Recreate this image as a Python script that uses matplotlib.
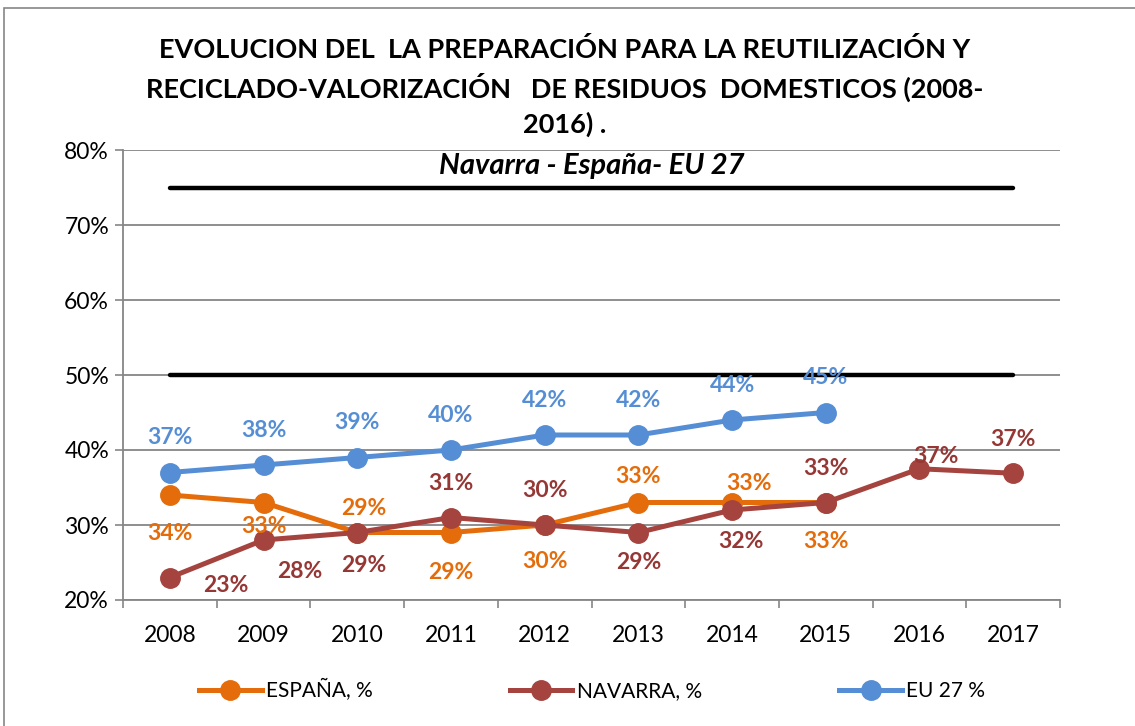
import numpy as np
import matplotlib.pyplot as plt
from matplotlib.patches import Rectangle

plt.rcParams['font.family'] = ['Lato', 'DejaVu Sans']

years = ['2008', '2009', '2010', '2011', '2012', '2013', '2014', '2015', '2016', '2017']
espana = [34, 33, 29, 29, 30, 33, 33, 33]
navarra = [23, 28, 29, 31, 30, 29, 32, 33, 37.5, 36.9]
eu27 = [37, 38, 39, 40, 42, 42, 44, 45]
objetivo_2020 = 50
objetivo_2030 = 75

espana_lbl = ['34%', '33%', '29%', '29%', '30%', '33%', '33%', '33%']
navarra_lbl = ['23%', '28%', '29%', '31%', '30%', '29%', '32%', '33%', '37%', '37%']
eu_lbl = ['37%', '38%', '39%', '40%', '42%', '42%', '44%', '45%']

# label offsets in pixels (dx, dy)
esp_off = [(0, -38), (0, -24), (7, 24), (0, -40), (0, -37), (0, 26), (17, 19), (0, -39)]
nav_off = [(56, -8), (36, -31), (7, -33), (0, 34), (0, 35), (0, -30), (9, -32), (0, 34), (16, 12), (0, 34)]
eu_off = [(0, 35)] * 8

c_esp = '#E46C0A'
c_nav = '#A5433F'
c_nav_t = '#953735'
c_eu = '#558ED5'
grey = '#868686'

fig = plt.figure(figsize=(11.35, 7.26), dpi=100)
fig.patches.append(Rectangle((4 / 1135, -0.01), 1.1, 1 - 8 / 726 + 0.01,
                             transform=fig.transFigure, fill=False,
                             edgecolor=grey, linewidth=1.2))
ax = fig.add_axes([123 / 1135, 1 - 600 / 726, 937 / 1135, 450 / 726])

x = np.arange(len(years))
ax.plot([x[0], x[-1]], [objetivo_2030 / 100] * 2, color='black', lw=3.2,
        solid_capstyle='round', zorder=3)
ax.plot([x[0], x[-1]], [objetivo_2020 / 100] * 2, color='black', lw=3.2,
        solid_capstyle='round', zorder=3)

ms = 14
ax.plot(x[:len(espana)], np.array(espana) / 100, color=c_esp, lw=3.6,
        marker='o', ms=ms, label='ESPAÑA, %', zorder=4)
ax.plot(x[:len(navarra)], np.array(navarra) / 100, color=c_nav, lw=3.6,
        marker='o', ms=ms, label='NAVARRA, %', zorder=5)
ax.plot(x[:len(eu27)], np.array(eu27) / 100, color=c_eu, lw=3.6,
        marker='o', ms=ms, label='EU 27 %', zorder=4)

def labels(vals, txt, offs, col):
    for i, (v, t, o) in enumerate(zip(vals, txt, offs)):
        ax.annotate(t, (x[i], v / 100), xytext=o, textcoords='offset pixels',
                    ha='center', va='center', fontsize=16.5, fontweight='bold',
                    color=col, zorder=6)

labels(espana, espana_lbl, esp_off, c_esp)
labels(navarra, navarra_lbl, nav_off, c_nav_t)
labels(eu27, eu_lbl, eu_off, c_eu)

ax.set_xlim(-0.5, len(years) - 0.5)
ax.set_ylim(0.2, 0.8)
ax.set_yticks(np.arange(0.2, 0.81, 0.1))
ax.set_yticklabels([f'{int(round(v * 100))}%' for v in np.arange(0.2, 0.81, 0.1)])
ax.set_xticks(x)
ax.set_xticklabels(years)
ax.set_xticks(np.arange(-0.5, len(years)), minor=True)
ax.tick_params(axis='x', which='major', length=0, pad=18, labelsize=16.5)
ax.tick_params(axis='x', which='minor', length=6, color=grey, width=1.2)
ax.tick_params(axis='y', length=6, color=grey, width=1.2, labelsize=16.5, pad=4)
ax.grid(axis='y', color=grey, lw=1.3)
ax.set_axisbelow(True)
for s in ['top', 'right']:
    ax.spines[s].set_visible(False)
for s in ['left', 'bottom']:
    ax.spines[s].set_color(grey)
    ax.spines[s].set_linewidth(1.3)

ax.text(0.5, 0.964, 'Navarra - España- EU 27', transform=ax.transAxes,
        ha='center', va='center', fontsize=21, fontweight='bold', style='italic')

fig.text(565 / 1135, 1 - 87 / 726,
         'EVOLUCION DEL  LA PREPARACIÓN PARA LA REUTILIZACIÓN Y\n'
         'RECICLADO-VALORIZACIÓN   DE RESIDUOS  DOMESTICOS (2008-\n'
         '2016) .',
         ha='center', va='center', fontsize=19.5, fontweight='bold',
         linespacing=1.44)

fig.legend(loc='center', bbox_to_anchor=(592 / 1135, 1 - 690 / 726), ncol=3,
           frameon=False, fontsize=15, columnspacing=6.6, handlelength=3.0,
           handletextpad=0.2)

fig.savefig('out.png', dpi=100)
